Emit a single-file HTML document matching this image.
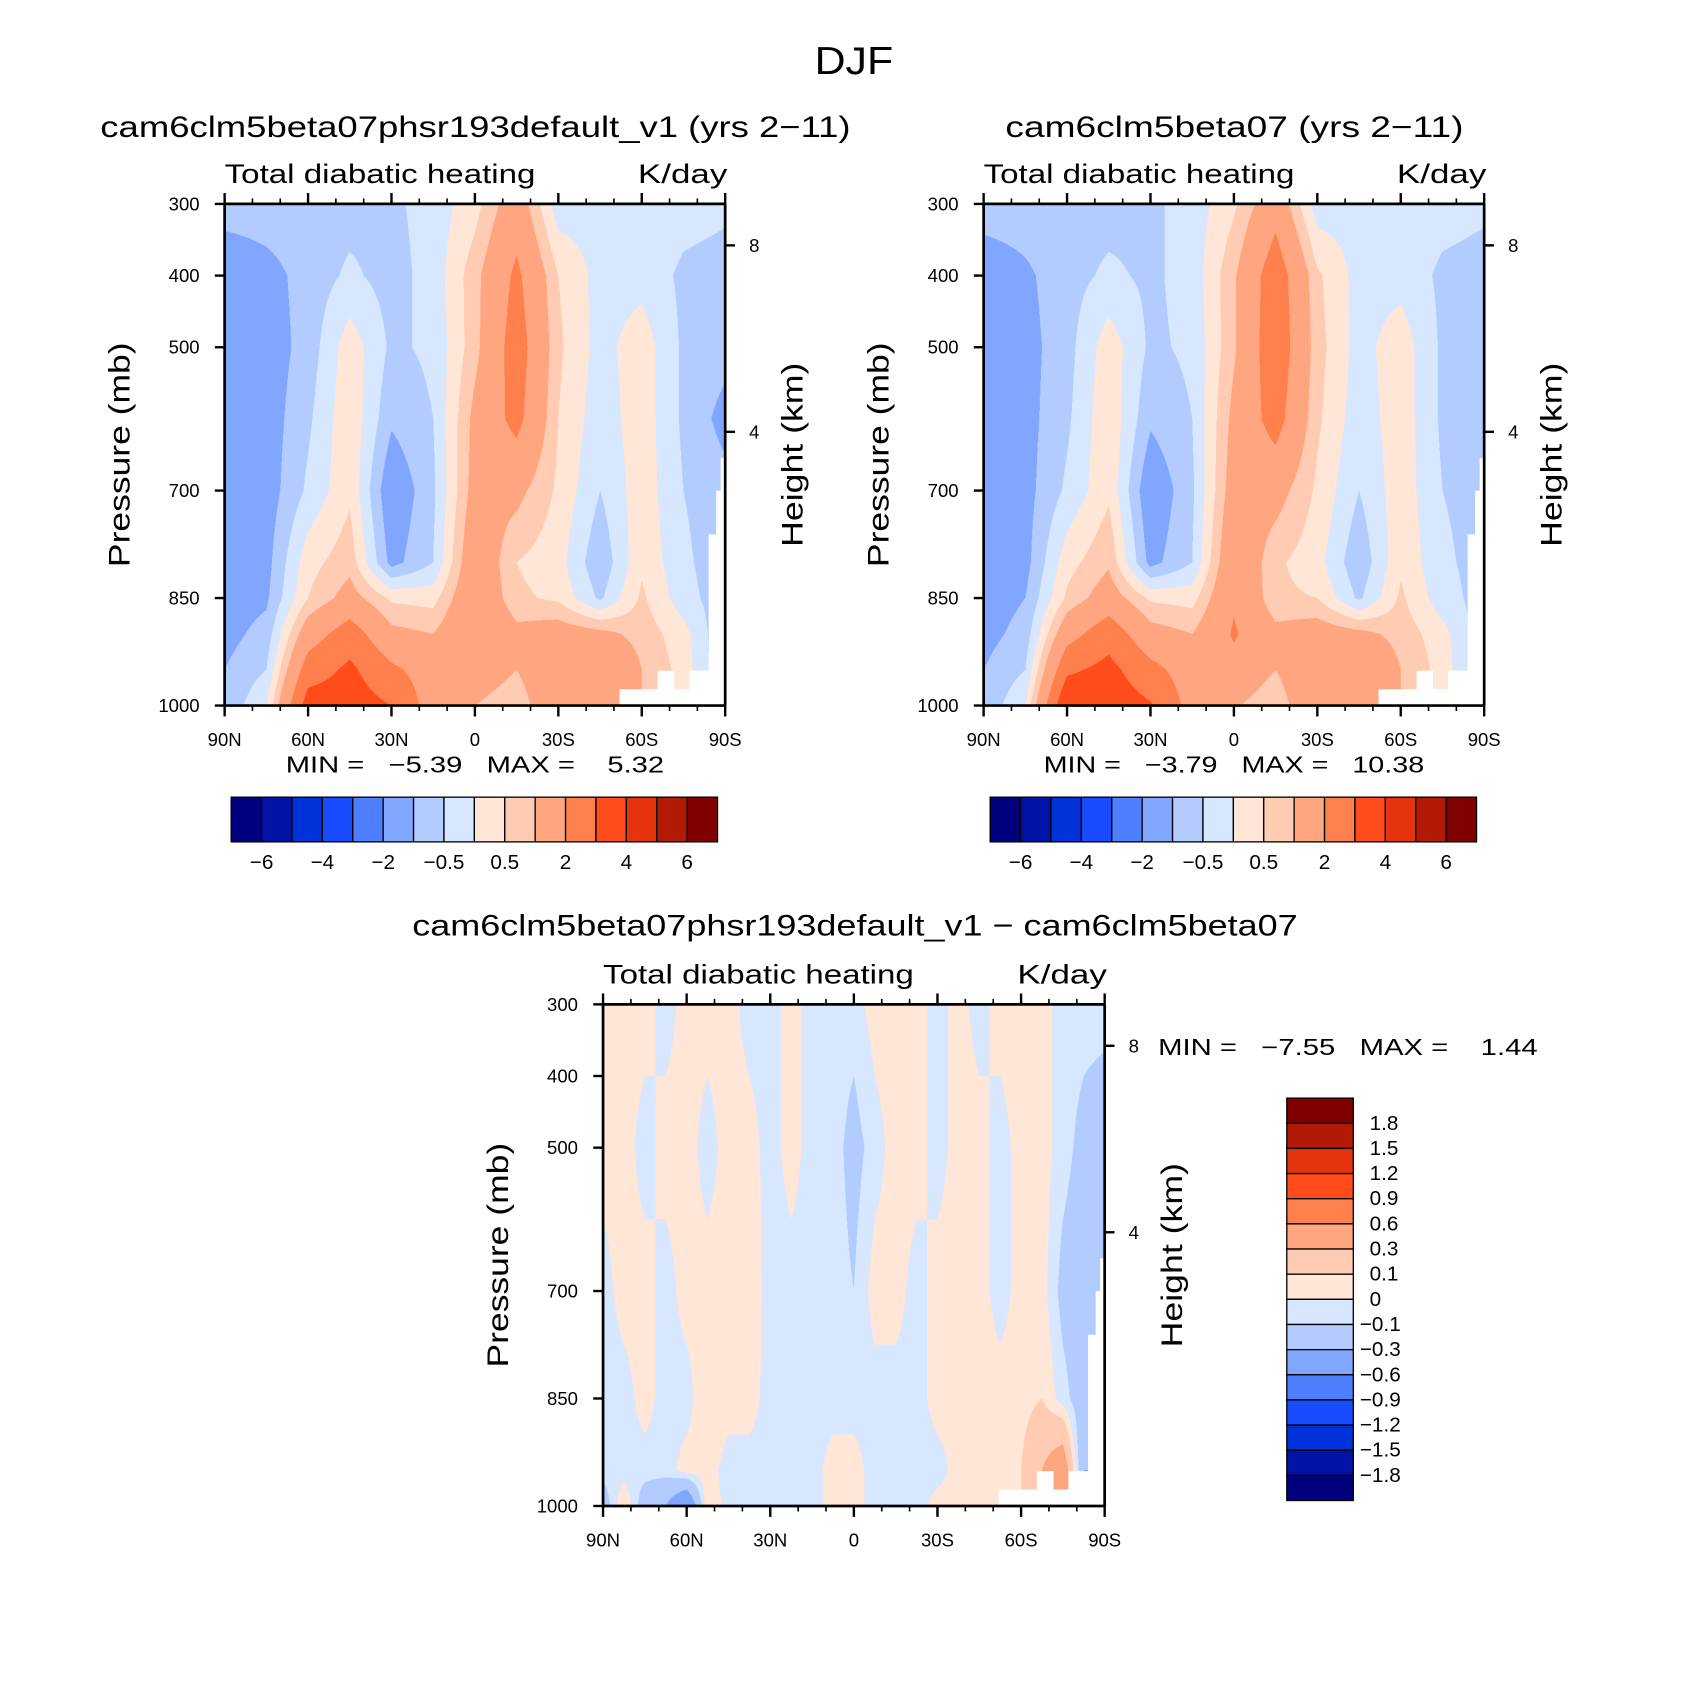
<!DOCTYPE html>
<html><head><meta charset="utf-8">
<style>
html,body{margin:0;padding:0;background:#fff;}
#wrap{width:1708px;height:1708px;overflow:hidden;position:relative;}
#stage{position:absolute;left:0;top:0;width:1566px;height:1566px;transform:scale(1.0905);transform-origin:0 0;font-family:"Liberation Sans",sans-serif;}
canvas{position:absolute;}
svg{position:absolute;left:0;top:0;}
</style></head>
<body>
<div id="wrap">
<div id="stage">
<canvas id="c1" style="left:206px;top:187px;width:459px;height:460px" width="918" height="920"></canvas>
<canvas id="c2" style="left:902px;top:187px;width:459px;height:460px" width="918" height="920"></canvas>
<canvas id="c3" style="left:553px;top:921px;width:460px;height:460px" width="920" height="920"></canvas>
<svg id="ov" width="1566" height="1566" viewBox="0 0 1566 1566"></svg>
</div></div>
<script>
// ---- data ----
const pLevels = [300,400,500,600,700,800,850,900,950,1000];
const lats13 = [90,75,60,45,30,15,0,-15,-30,-45,-60,-75,-90];
const panel1Values = [
[-0.7,-0.7,-0.7,-0.7,-0.6,-0.3,0.3,1.5,-0.3,-0.2,-0.2,-0.3,-0.4],
[-1.5,-1.2,-0.8,-0.4,-0.7,-0.3,0.8,2.2,0.5,-0.2,-0.2,-0.6,-0.7],
[-1.5,-1.3,-0.8,0.3,-0.6,-0.4,0.8,2.5,0.6,-0.2,0.3,-0.6,-0.8],
[-1.4,-1.3,-0.6,0.4,-0.9,-0.5,1.2,2.3,0.5,-0.3,0.3,-0.6,-1.2],
[-1.4,-1.3,-0.4,0.4,-1.5,-0.6,1.3,1.2,0.4,-0.5,0.3,-0.5,-0.8],
[-1.3,-1.2,0.3,0.8,-1.2,-0.5,1.7,0.5,0.2,-0.9,0.4,-0.4,-0.8],
[-1.3,-1.1,0.5,1.3,0.4,0.3,1.8,0.6,0.4,-0.6,0.6,-0.3,-0.8],
[-1.2,-0.8,1.5,2.5,1.2,1.0,2.0,1.2,1.4,1.2,0.8,0.2,-1.0],
[-1.0,-0.5,2.5,3.2,2.2,1.5,1.6,1.0,2.0,2.0,1.0,0.3,-1.0],
[-0.9,0.0,3.5,3.5,3.0,1.5,1.0,0.5,2.0,2.0,1.0,0.3,-1.0]];
const panel2Values = [
[-0.7,-0.7,-0.7,-0.7,-0.6,-0.3,0.4,1.6,-0.3,-0.2,-0.2,-0.3,-0.4],
[-1.4,-1.1,-0.7,-0.4,-0.6,-0.3,0.9,2.6,0.6,-0.2,-0.2,-0.6,-0.7],
[-1.5,-1.2,-0.7,0.3,-0.6,-0.4,0.9,2.7,0.7,-0.2,0.3,-0.6,-0.7],
[-1.4,-1.2,-0.6,0.4,-0.9,-0.5,1.2,2.4,0.6,-0.3,0.3,-0.6,-0.9],
[-1.4,-1.2,-0.4,0.4,-1.5,-0.6,1.4,1.3,0.4,-0.5,0.3,-0.5,-0.7],
[-1.3,-1.2,0.3,0.9,-1.2,-0.5,1.8,0.6,0.2,-0.9,0.4,-0.4,-0.7],
[-1.3,-1.0,0.6,1.4,0.4,0.3,1.9,0.6,0.5,-0.6,0.6,-0.3,-0.7],
[-1.2,-0.8,1.6,2.6,1.3,1.0,2.1,1.2,1.4,1.2,0.8,0.2,-0.9],
[-1.0,-0.5,2.8,3.3,2.3,1.5,1.7,1.0,2.0,2.0,1.0,0.3,-0.9],
[-0.9,0.0,4.0,3.6,3.1,1.6,1.1,0.5,2.0,2.0,1.0,0.3,-0.9]];
const diffLevels = [300,500,700,850,950,1000];
const lats25 = [90,82.5,75,67.5,60,52.5,45,37.5,30,22.5,15,7.5,0,-7.5,-15,-22.5,-30,-37.5,-45,-52.5,-60,-67.5,-75,-82.5,-90];
const diffValues = [
[0.05,0.05,0.05,-0.05,0.05,0.05,0.05,-0.05,-0.05,0.05,-0.05,-0.05,-0.05,0.05,0.05,0.05,-0.05,0.05,-0.05,0.05,0.05,0.05,-0.05,-0.05,-0.05],
[0.05,0.05,-0.05,0.05,0.05,-0.05,0.05,0.05,-0.05,0.05,-0.05,-0.05,-0.15,-0.05,0.05,0.05,-0.05,0.05,0.05,-0.05,0.05,0.05,-0.05,-0.15,-0.2],
[-0.05,0.05,0.05,-0.05,0.05,0.05,0.05,0.08,-0.05,-0.05,-0.05,-0.05,-0.1,0.05,0.05,-0.05,0.05,0.05,0.05,-0.05,0.05,0.05,-0.15,-0.2,-0.2],
[-0.05,-0.05,0.05,-0.05,-0.05,0.1,0.05,0.05,-0.05,-0.05,-0.05,-0.05,-0.05,-0.05,-0.05,-0.05,0.05,0.05,0.05,0.05,0.05,0.1,-0.05,-0.2,-0.2],
[-0.05,-0.05,-0.05,-0.05,0.05,0.05,-0.05,-0.05,-0.05,-0.05,-0.05,0.05,0.05,-0.05,-0.05,-0.05,-0.05,0.05,0.05,0.05,0.1,0.3,0.5,-0.3,-0.3],
[-0.2,0.1,-0.2,-0.3,-0.6,0.1,-0.05,-0.05,-0.05,-0.05,-0.05,0.05,0.05,-0.05,-0.05,-0.05,0.05,0.05,0.05,0.05,0.1,0.3,0.5,-0.3,-0.3]];
const mainBounds = [-6,-5,-4,-3,-2,-1,-0.5,0,0.5,1,2,3,4,5,6];
const mainTickLabels = ["−6","−4","−2","−0.5","0.5","2","4","6"];
const diffBounds = [-1.8,-1.5,-1.2,-0.9,-0.6,-0.3,-0.1,0,0.1,0.3,0.6,0.9,1.2,1.5,1.8];
const diffTickLabels = ["1.8","1.5","1.2","0.9","0.6","0.3","0.1","0","−0.1","−0.3","−0.6","−0.9","−1.2","−1.5","−1.8"];
const latTickLabels = ["90N","60N","30N","0","30S","60S","90S"];
const presTickLabels = [300,400,500,700,850,1000];
const heightTickLabels = [8,4];
const palette = ["#00007f","#0013a6","#0032d9","#1a4cff","#4d7fff","#80a6ff","#b3ccff","#d6e7ff","#ffe6d6","#ffccb3","#ffa680","#ff7f4d","#ff4c1a","#e5330d","#b31a06","#800000"];

// ---- helpers ----
const NS="http://www.w3.org/2000/svg";
const ov=document.getElementById('ov');
function hex(c){return [parseInt(c.substr(1,2),16),parseInt(c.substr(3,2),16),parseInt(c.substr(5,2),16)];}
const pal=palette.map(hex);
function yOfP(p,top){return top+(p-300)/700*460;}
function xOfLat(lat,left,w){return left+(90-lat)/180*w;}
function findIdx(arr,v,desc){
  for(let i=0;i<arr.length-1;i++){
    const a=arr[i],b=arr[i+1];
    if(desc? (v<=a&&v>=b):(v>=a&&v<=b)) return i+(v-a)/(b-a);
  }
  return desc? (v>arr[0]?0:arr.length-1):(v<arr[0]?0:arr.length-1);
}
function drawField(id,vals,lats,levs,bounds){
  const cv=document.getElementById(id),ctx=cv.getContext('2d');
  const W=cv.width,H=cv.height,img=ctx.createImageData(W,H);
  for(let py=0;py<H;py++){
    const p=300+(py+0.5)/H*700;
    const fi=findIdx(levs,p,false);const i0=Math.min(Math.floor(fi),levs.length-2),ti=fi-i0;
    for(let px=0;px<W;px++){
      const lat=90-(px+0.5)/W*180;
      const fj=findIdx(lats,lat,true);const j0=Math.min(Math.floor(fj),lats.length-2),tj=fj-j0;
      const v=(vals[i0][j0]*(1-tj)+vals[i0][j0+1]*tj)*(1-ti)+(vals[i0+1][j0]*(1-tj)+vals[i0+1][j0+1]*tj)*ti;
      let k=0;while(k<bounds.length&&v>bounds[k])k++;
      const c=pal[k],o=(py*W+px)*4;
      img.data[o]=c[0];img.data[o+1]=c[1];img.data[o+2]=c[2];img.data[o+3]=255;
    }
  }
  ctx.putImageData(img,0,0);
}
function line(x1,y1,x2,y2,w,name){
  const l=document.createElementNS(NS,'line');
  l.setAttribute('x1',x1);l.setAttribute('y1',y1);l.setAttribute('x2',x2);l.setAttribute('y2',y2);
  l.setAttribute('stroke','#000');l.setAttribute('stroke-width',w);
  
  
  ov.appendChild(l);return l;
}
function text(x,y,s,size,anchor,name,rot,len){
  const t=document.createElementNS(NS,'text');
  t.setAttribute('x',x);t.setAttribute('y',y);t.setAttribute('font-size',size);
  t.setAttribute('text-anchor',anchor||'start');t.setAttribute('dominant-baseline','central');
  t.setAttribute('font-family','"Liberation Sans",sans-serif');
  t.style.whiteSpace='pre';
  if(rot)t.setAttribute('transform','rotate(-90 '+x+' '+y+')');
  if(len){t.setAttribute('textLength',len);t.setAttribute('lengthAdjust','spacingAndGlyphs');}
  t.textContent=s;
  
  
  ov.appendChild(t);return t;
}
function poly(pts,fill,name){
  const p=document.createElementNS(NS,'polygon');
  p.setAttribute('points',pts.map(a=>a.join(',')).join(' '));p.setAttribute('fill',fill);
  
  
  ov.appendChild(p);
}
function rect(x,y,w,h,fill,name){
  const r=document.createElementNS(NS,'rect');
  r.setAttribute('x',x);r.setAttribute('y',y);r.setAttribute('width',w);r.setAttribute('height',h);
  r.setAttribute('fill',fill);r.setAttribute('stroke','#000');r.setAttribute('stroke-width',1.2);
  
  
  ov.appendChild(r);
}
function axes(L,T,W,H,pre){
  const B=T+H,R=L+W;
  poly([[L+W*0.789,B],[L+W*0.789,B-15],[L+W*0.865,B-15],[L+W*0.865,B-32],[L+W*0.898,B-32],[L+W*0.898,B-15],[L+W*0.928,B-15],[L+W*0.928,B-32],[L+W*0.967,B-32],[L+W*0.967,B-157],[L+W*0.982,B-157],[L+W*0.982,B-197],[L+W*0.991,B-197],[L+W*0.991,B-227],[R,B-227],[R,B]],'#fff',pre+'-missing-data');
  line(L,T,R,T,2.5,pre+'-frame-top');line(L,B,R,B,2.5,pre+'-frame-bottom');
  line(L,T,L,B,2.5,pre+'-frame-left');line(R,T,R,B,2.5,pre+'-frame-right');
  for(let lat=90;lat>=-90;lat-=10){
    const x=xOfLat(lat,L,W),maj=(lat%30===0);const len=maj?10:5;
    line(x,T,x,T-len,maj?2.2:1.5,pre+'-top-tick');
    line(x,B,x,B+len,maj?2.2:1.5,pre+'-bottom-tick');
  }
  latTickLabels.forEach((s,i)=>{text(xOfLat(90-30*i,L,W),B+31,s,17,'middle',pre+'-lat-label');});
  presTickLabels.forEach(p=>{const y=yOfP(p,T);line(L-9,y,L,y,2.2,pre+'-pressure-tick');text(L-23,y,String(p),17,'end',pre+'-pressure-label');});
  const hy=[T+38,T+209];
  heightTickLabels.forEach((h,i)=>{line(R,hy[i],R+9,hy[i],2.2,pre+'-height-tick');text(R+22,hy[i],String(h),17,'start',pre+'-height-label');});
  text(L,T-28,'Total diabatic heating',25,'start',pre+'-field-title',false,285);
  text(R+2,T-28,'K/day',25,'end',pre+'-units',false,82);
  text(L-96,T+230,'Pressure (mb)',27,'middle',pre+'-y-axis-title',true,206);
  text(R+62,T+230,'Height (km)',27,'middle',pre+'-height-axis-title',true,169);
}
function hbar(L,T,W,H,pre){
  const bw=W/palette.length;
  palette.forEach((c,i)=>rect(L+i*bw,T,bw,H,c,pre+'-colorbar-box'));
  mainTickLabels.forEach((s,i)=>text(L+(2*i+1)*bw,T+60,s,19,'middle',pre+'-colorbar-label'));
}
function vbar(L,T,W,H,pre){
  const bh=H/palette.length;
  palette.slice().reverse().forEach((c,i)=>rect(L,T+i*bh,W,bh,c,pre+'-colorbar-box'));
  diffTickLabels.forEach((s,i)=>text(L+W+(s[0]==='−'?6:15),T+(i+1)*bh,s,19,'start',pre+'-colorbar-label'));
}
// ---- draw ----
drawField('c1',panel1Values,lats13,pLevels,mainBounds);
drawField('c2',panel2Values,lats13,pLevels,mainBounds);
drawField('c3',diffValues,lats25,diffLevels,diffBounds);
text(783,56,'DJF',36,'middle','figure-title',false,72);
text(436,117,'cam6clm5beta07phsr193default_v1 (yrs 2−11)',27,'middle','panel1-title',false,688);
text(1132,117,'cam6clm5beta07 (yrs 2−11)',27,'middle','panel2-title',false,420);
text(784,849,'cam6clm5beta07phsr193default_v1 − cam6clm5beta07',27,'middle','diff-panel-title',false,812);
axes(206,187,459,460,'panel1');
axes(902,187,459,460,'panel2');
axes(553,921,460,460,'diff');
text(262,701,'MIN =   −5.39   MAX =    5.32',21,'start','panel1-min-max',false,347);
text(957,701,'MIN =   −3.79   MAX =   10.38',21,'start','panel2-min-max',false,349);
text(1062,960,'MIN =   −7.55   MAX =    1.44',21,'start','diff-min-max',false,348);
hbar(212,731,446,41,'panel1');
hbar(908,731,446,41,'panel2');
vbar(1180,1007,61,369,'diff');
</script>
</body></html>
